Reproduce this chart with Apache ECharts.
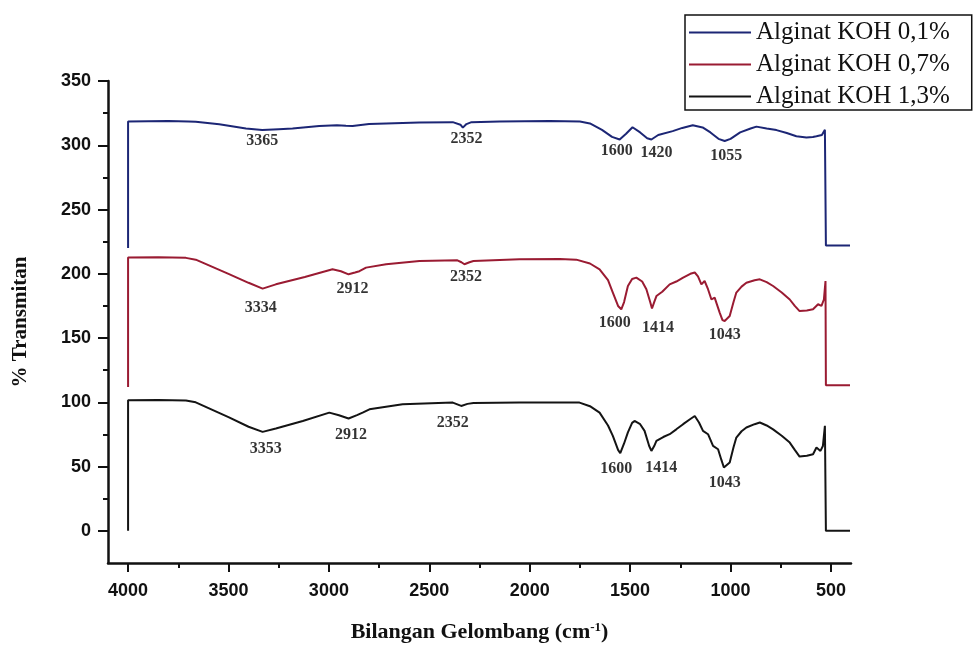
<!DOCTYPE html>
<html>
<head>
<meta charset="utf-8">
<script src="https://cdn.jsdelivr.net/npm/echarts@6/dist/echarts.min.js"></script>
<style>
  html, body { margin: 0; padding: 0; background: #fff; }
  #chart { width: 978px; height: 646px; }
</style>
</head>
<body>
<div id="chart"></div>
<script>
// FTIR spectra, [wavenumber, %T]
const alginat01 = [
  [4000, 220], [4000, 318.5], [3800, 318.8], [3700, 318.5], [3663, 318.3], [3546, 316.3],
  [3413, 313], [3332, 311.8], [3250, 312.5], [3181, 313], [3048, 315], [2960, 315.5],
  [2915, 315.2], [2882, 315], [2800, 316.5], [2715, 317], [2550, 317.8], [2383, 318],
  [2345, 316], [2333, 313.7], [2315, 316.5], [2290, 318], [2150, 318.5], [1900, 318.8],
  [1750, 318.5], [1700, 317], [1640, 312], [1590, 306.5], [1552, 304.5], [1520, 309],
  [1488, 314], [1450, 310], [1415, 305.5], [1394, 304.5], [1360, 308], [1288, 311],
  [1240, 313.5], [1188, 315.5], [1139, 313.9], [1100, 310], [1060, 305], [1029, 303.3],
  [1000, 305], [952, 310], [900, 313], [871, 314.5], [820, 313], [771, 311.8],
  [720, 309.5], [672, 307], [622, 306], [590, 306.5], [572, 307], [545, 308],
  [530, 312], [525, 222], [405, 222]
];

const alginat07 = [
  [4000, 112], [4000, 212.6], [3850, 212.8], [3712, 212.4], [3663, 211], [3500, 200],
  [3400, 193], [3330, 188.5], [3264, 191.8], [3120, 197.5], [2982, 203.5], [2940, 202],
  [2902, 199.6], [2870, 201], [2848, 202], [2815, 204.8], [2715, 207.4], [2549, 210],
  [2360, 210.5], [2340, 209], [2325, 207.4], [2300, 209], [2280, 210], [2051, 211.3],
  [1850, 211.5], [1768, 211], [1700, 208], [1652, 203.5], [1610, 195], [1586, 185.4],
  [1560, 175], [1544, 172.4], [1530, 178], [1511, 190.5], [1490, 196], [1469, 197],
  [1440, 194], [1419, 188], [1400, 178], [1391, 173], [1380, 178], [1369, 182.7],
  [1340, 186], [1303, 191.8], [1270, 194], [1236, 197], [1200, 200], [1178, 201],
  [1162, 198], [1145, 191.8], [1129, 194.4], [1112, 188], [1095, 180], [1079, 181.5],
  [1054, 169.8], [1040, 164], [1029, 163.3], [1004, 167.2], [985, 178], [971, 185.4],
  [945, 190], [921, 193], [880, 195], [854, 195.7], [820, 193.5], [788, 190.5],
  [745, 185.5], [705, 180], [680, 175], [656, 171], [620, 171.5], [589, 172.4],
  [564, 176.3], [547, 175], [535, 180], [527, 194.4], [525, 113.3], [405, 113.3]
];

const alginat13 = [
  [4000, 0], [4000, 101.6], [3850, 101.8], [3712, 101.5], [3663, 100], [3500, 88.5],
  [3400, 81], [3330, 77], [3264, 79.6], [3130, 85.5], [2998, 92], [2950, 90],
  [2902, 87.4], [2860, 90], [2832, 92], [2798, 94.6], [2633, 98.5], [2383, 99.8],
  [2341, 97.2], [2310, 98.8], [2280, 99.4], [2051, 99.8], [1752, 99.8], [1700, 97],
  [1652, 92], [1610, 82], [1586, 73.9], [1560, 63], [1549, 60.4], [1530, 68],
  [1511, 76.6], [1490, 84], [1478, 85.5], [1450, 83], [1428, 77.8], [1405, 66],
  [1394, 62.2], [1380, 66], [1369, 70], [1335, 73], [1303, 75.2], [1270, 79],
  [1236, 83], [1200, 87], [1178, 89.4], [1157, 84.3], [1137, 77.8], [1112, 75.2],
  [1087, 66.1], [1062, 63.5], [1045, 55], [1033, 49.3], [1004, 53.2], [985, 65],
  [971, 72.6], [945, 77.5], [921, 80.4], [880, 83], [854, 84.3], [820, 82],
  [788, 79], [745, 74], [705, 68.7], [680, 63], [656, 57.8], [620, 58.5],
  [589, 59.6], [572, 64.8], [552, 62.2], [540, 66], [530, 81.7], [525, 0], [405, 0]
];

// peak labels: [wavenumber, level, text]
const peaks01 = [[3332, 303.8, '3365'], [2315, 304.6, '2352'], [1566, 295.5, '1600'], [1369, 294.2, '1420'], [1021, 291.6, '1055']];
const peaks07 = [[3339, 173.7, '3334'], [2882, 188.5, '2912'], [2317, 197.8, '2352'], [1577, 162, '1600'], [1361, 158.2, '1414'], [1029, 152.2, '1043']];
const peaks13 = [[3314, 64, '3353'], [2890, 74.4, '2912'], [2383, 84.3, '2352'], [1569, 48, '1600'], [1345, 49.3, '1414'], [1029, 37.6, '1043']];

const seriesNames = ['Alginat KOH 0,1%', 'Alginat KOH 0,7%', 'Alginat KOH 1,3%'];
const seriesColors = ['#1c2675', '#9a1b32', '#141414'];

const xMajorTicks = [4000, 3500, 3000, 2500, 2000, 1500, 1000, 500];
const xMinorTicks = [3750, 3250, 2750, 2250, 1750, 1250, 750];
const yMajorTicks = [0, 50, 100, 150, 200, 250, 300, 350];
const yMinorTicks = [25, 75, 125, 175, 225, 275, 325];

const chart = echarts.init(document.getElementById('chart'));

const serif = '"Liberation Serif", "Times New Roman", serif';
const sans = '"Liberation Sans", Arial, sans-serif';

const xBase = { type: 'value', min: 400, max: 4100, inverse: true, gridIndex: 0, position: 'bottom', splitLine: { show: false } };
const yBase = { type: 'value', min: -25, max: 350, gridIndex: 0, position: 'left', splitLine: { show: false } };

function lineSeries(i, data) {
  return {
    name: seriesNames[i],
    type: 'line',
    data: data,
    symbol: 'none',
    animation: false,
    lineStyle: { color: seriesColors[i], width: 2 },
    itemStyle: { color: seriesColors[i] },
    z: 3
  };
}

function peakSeries(peaks) {
  return {
    type: 'scatter',
    symbolSize: 0,
    animation: false,
    silent: true,
    data: peaks.map(p => ({ value: [p[0], p[1]], name: p[2] })),
    label: {
      show: true,
      position: 'inside',
      formatter: '{b}',
      color: '#000',
      fontFamily: serif,
      fontWeight: 'bold',
      fontSize: 16
    },
    z: 4
  };
}

chart.setOption({
  backgroundColor: '#ffffff',
  animation: false,
  grid: { left: 108, right: 127, top: 81, bottom: 83, containLabel: false, outerBoundsMode: 'none' },
  legend: {
    data: seriesNames,
    orient: 'vertical',
    left: 685,
    top: 15,
    padding: [5, 22, 1, 3],
    itemWidth: 62,
    itemHeight: 14,
    itemGap: 7,
    borderColor: '#111',
    borderWidth: 1.5,
    borderRadius: 0,
    itemStyle: { opacity: 0 },
    lineStyle: { width: 2 },
    textStyle: { fontFamily: serif, fontSize: 25, color: '#111' }
  },
  xAxis: [
    Object.assign({}, xBase, {
      name: 'Bilangan Gelombang (cm{sup|-1})',
      nameLocation: 'middle',
      nameGap: 58,
      nameTextStyle: {
        fontFamily: serif, fontSize: 22, fontWeight: 'bold', color: '#111',
        rich: { sup: { fontFamily: serif, fontSize: 13, fontWeight: 'bold', color: '#111', verticalAlign: 'top', padding: [0, 0, 10, 0] } }
      },
      axisLine: { show: true, onZero: false, lineStyle: { color: '#111', width: 2.5 } },
      axisTick: { show: true, customValues: xMajorTicks, length: 9, lineStyle: { color: '#111', width: 2 } },
      axisLabel: { customValues: xMajorTicks, formatter: v => String(v), margin: 19, color: '#111', fontFamily: sans, fontWeight: 'bold', fontSize: 18 }
    }),
    Object.assign({}, xBase, {
      axisLine: { show: false, onZero: false },
      axisTick: { show: true, customValues: xMinorTicks, length: 5, lineStyle: { color: '#111', width: 2 } },
      axisLabel: { show: false }
    })
  ],
  yAxis: [
    Object.assign({}, yBase, {
      name: '% Transmitan',
      nameLocation: 'middle',
      nameGap: 77,
      nameTextStyle: { fontFamily: serif, fontSize: 21, fontWeight: 'bold', color: '#111' },
      axisLine: { show: true, onZero: false, lineStyle: { color: '#111', width: 2.5 } },
      axisTick: { show: true, customValues: yMajorTicks, length: 10, lineStyle: { color: '#111', width: 2 } },
      axisLabel: { customValues: yMajorTicks, formatter: v => String(v), margin: 17, color: '#111', fontFamily: sans, fontWeight: 'bold', fontSize: 18 }
    }),
    Object.assign({}, yBase, {
      axisLine: { show: false, onZero: false },
      axisTick: { show: true, customValues: yMinorTicks, length: 5, lineStyle: { color: '#111', width: 2 } },
      axisLabel: { show: false }
    })
  ],
  series: [
    lineSeries(0, alginat01),
    lineSeries(1, alginat07),
    lineSeries(2, alginat13),
    peakSeries(peaks01),
    peakSeries(peaks07),
    peakSeries(peaks13)
  ]
});
</script>
</body>
</html>
